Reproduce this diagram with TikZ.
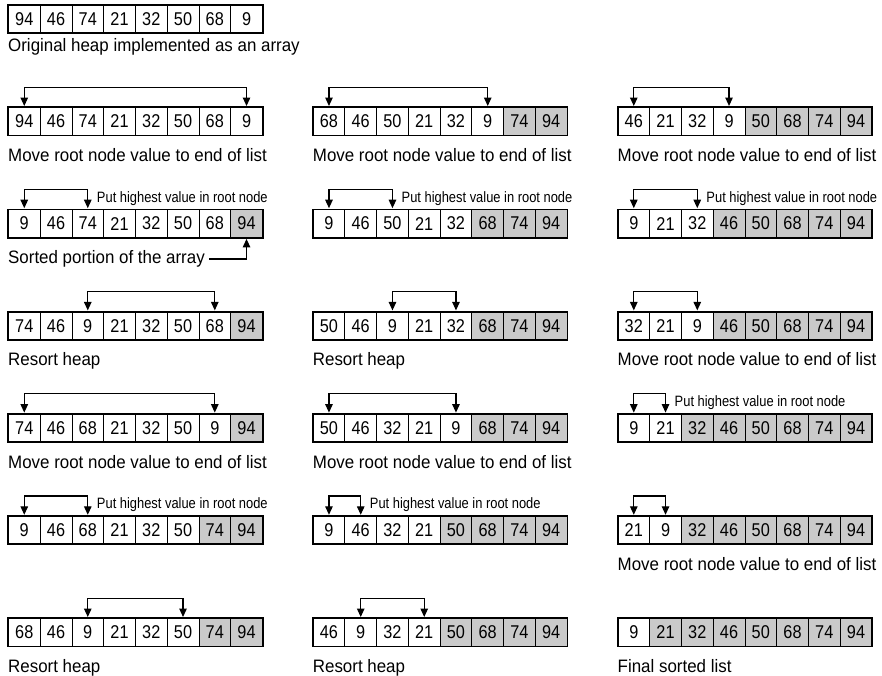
\documentclass[tikz,border=0pt]{standalone}
\usepackage{fontspec}
\setmainfont[FakeStretch=0.94]{Liberation Sans}
\newfontfamily\lblfont[FakeStretch=0.86]{Liberation Sans}
\newfontfamily\cellfont[FakeStretch=0.88]{Liberation Sans}
\usetikzlibrary{arrows.meta,calc}
\definecolor{cellgray}{RGB}{202,202,202}
\newcommand{\heaparr}[5]{%
  \foreach \v [count=\i from 0] in {#4} {%
    \ifnum\i<#5\relax \def\cf{white}\else \def\cf{cellgray}\fi
    \node[cell, fill=\cf] (#1-\i) at ({#2+\i*31.75},#3) {\v};
  }
  \draw[outerbox] (#1-0.north west) rectangle (#1-7.south east);
}
\newcommand{\brk}[3]{\draw[brkline] (#1-#2.north) -- ++(0,20pt) -| (#1-#3.north);}
\newcommand{\phv}[2]{\node[lbl, anchor=west] (#1-lbl) at ($(#1-#2.north)+(9pt,11pt)$) {Put highest value in root node};}
\newcommand{\capt}[3]{\node[captext, anchor=base west] (#1-cap) at ($(#1-0.south west)+(0,-#2pt)$) {#3};}
\begin{document}
\begin{tikzpicture}[x=1pt,y=-1pt,
  cell/.style={draw, line width=0.8pt, minimum width=31.75pt, minimum height=27.5pt, inner sep=0pt, anchor=north west, font=\cellfont\fontsize{18.5}{20}\selectfont},
  outerbox/.style={line width=1.8pt},
  headtip/.tip={Triangle[length=8.5pt,width=7.5pt]},
  brkline/.style={line width=1.2pt, headtip-headtip, shorten <=1.2pt, shorten >=1.2pt},
  uparrow/.style={line width=1.2pt, -headtip, shorten >=1.2pt},
  lbl/.style={inner sep=0pt, font=\lblfont\fontsize{15}{17}\selectfont},
  captext/.style={inner sep=0pt, font=\fontsize{18}{21}\selectfont}]
\useasboundingbox (0,0) rectangle (882,675);
% ---------- column 1 ----------
\heaparr{A0}{8}{5}{94,46,74,21,32,50,68,9}{8}
\capt{A0}{18}{Original heap implemented as an array}
\heaparr{A1}{8}{107.2}{94,46,74,21,32,50,68,9}{8}
\brk{A1}{0}{7}
\capt{A1}{26}{Move root node value to end of list}
\heaparr{A2}{8}{209.4}{9,46,74,21,32,50,68,94}{7}
\brk{A2}{0}{2}
\phv{A2}{2}
\capt{A2}{26}{Sorted portion of the array}
\draw[uparrow] ([xshift=4pt]A2-cap.east) -| (A2-7.south);
\heaparr{A3}{8}{311.6}{74,46,9,21,32,50,68,94}{7}
\brk{A3}{2}{6}
\capt{A3}{26}{Resort heap}
\heaparr{A4}{8}{413.8}{74,46,68,21,32,50,9,94}{7}
\brk{A4}{0}{6}
\capt{A4}{26}{Move root node value to end of list}
\heaparr{A5}{8}{516}{9,46,68,21,32,50,74,94}{6}
\brk{A5}{0}{2}
\phv{A5}{2}
\heaparr{A6}{8}{618.2}{68,46,9,21,32,50,74,94}{6}
\brk{A6}{2}{5}
\capt{A6}{26}{Resort heap}
% ---------- column 2 ----------
\heaparr{B1}{312.7}{107.2}{68,46,50,21,32,9,74,94}{6}
\brk{B1}{0}{5}
\capt{B1}{26}{Move root node value to end of list}
\heaparr{B2}{312.7}{209.4}{9,46,50,21,32,68,74,94}{5}
\brk{B2}{0}{2}
\phv{B2}{2}
\heaparr{B3}{312.7}{311.6}{50,46,9,21,32,68,74,94}{5}
\brk{B3}{2}{4}
\capt{B3}{26}{Resort heap}
\heaparr{B4}{312.7}{413.8}{50,46,32,21,9,68,74,94}{5}
\brk{B4}{0}{4}
\capt{B4}{26}{Move root node value to end of list}
\heaparr{B5}{312.7}{516}{9,46,32,21,50,68,74,94}{4}
\brk{B5}{0}{1}
\phv{B5}{1}
\heaparr{B6}{312.7}{618.2}{46,9,32,21,50,68,74,94}{4}
\brk{B6}{1}{3}
\capt{B6}{26}{Resort heap}
% ---------- column 3 ----------
\heaparr{C1}{617.5}{107.2}{46,21,32,9,50,68,74,94}{4}
\brk{C1}{0}{3}
\capt{C1}{26}{Move root node value to end of list}
\heaparr{C2}{617.5}{209.4}{9,21,32,46,50,68,74,94}{3}
\brk{C2}{0}{2}
\phv{C2}{2}
\heaparr{C3}{617.5}{311.6}{32,21,9,46,50,68,74,94}{3}
\brk{C3}{0}{2}
\capt{C3}{26}{Move root node value to end of list}
\heaparr{C4}{617.5}{413.8}{9,21,32,46,50,68,74,94}{2}
\brk{C4}{0}{1}
\phv{C4}{1}
\heaparr{C5}{617.5}{516}{21,9,32,46,50,68,74,94}{2}
\brk{C5}{0}{1}
\capt{C5}{26}{Move root node value to end of list}
\heaparr{C6}{617.5}{618.2}{9,21,32,46,50,68,74,94}{1}
\capt{C6}{26}{Final sorted list}
\end{tikzpicture}
\end{document}
